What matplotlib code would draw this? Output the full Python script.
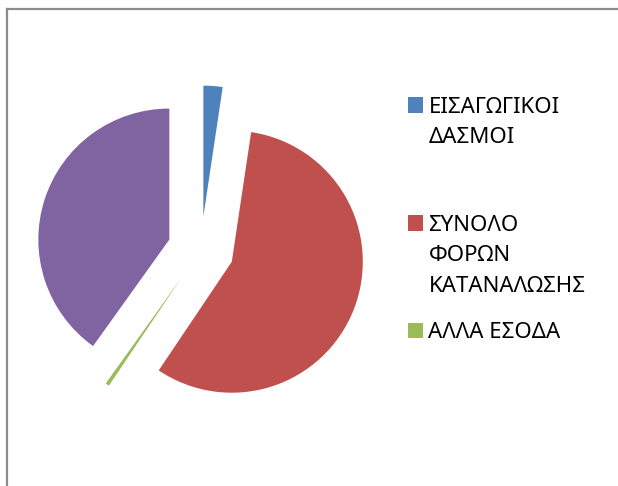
import matplotlib
matplotlib.use('Agg')
import matplotlib.pyplot as plt
from matplotlib.patches import Rectangle
from matplotlib.lines import Line2D

plt.rcParams['font.family'] = ['Noto Sans', 'DejaVu Sans']

# data (shares, clockwise from 12 o'clock)
labels = ['ΕΙΣΑΓΩΓΙΚΟΙ\nΔΑΣΜΟΙ', 'ΣΥΝΟΛΟ\nΦΟΡΩΝ\nΚΑΤΑΝΑΛΩΣΗΣ', 'ΑΛΛΑ ΕΣΟΔΑ', '']
values = [2.36, 57.06, 0.47, 40.11]
colors = ['#4F81BD', '#C0504D', '#9BBB59', '#8064A2']

W, H = 618, 486
fig = plt.figure(figsize=(W / 100, H / 100), dpi=100)
ax = fig.add_axes([0, 0, 1, 1])

# pie centre / radius in pixels
cx, cy, R = 200.9, 249.7, 131.0
ax.pie(values, colors=colors, startangle=90, counterclock=False,
       explode=[0.253] * len(values), radius=1.0,
       wedgeprops=dict(linewidth=0))
ax.set_aspect('auto')
ax.set_xlim(-cx / R, (W - cx) / R)
ax.set_ylim(-(H - cy) / R, cy / R)
ax.axis('off')

# outer frame (only top and left edges show in the crop)
fig.add_artist(Line2D([7 / W, 7 / W], [0, 1 - 9.5 / H], color='#8c8c8c', lw=1.6))
fig.add_artist(Line2D([7 / W, 1], [1 - 9.5 / H, 1 - 9.5 / H], color='#8c8c8c', lw=1.6))

# legend (first three entries only), baselines in pixels
first_base = [112.8, 230.7, 338.3]
step = 30.5
for lab, col, base in zip(labels[:3], colors[:3], first_base):
    fig.add_artist(Rectangle((407.5 / W, 1 - base / H), 15 / W, 15.3 / H,
                             transform=fig.transFigure, fc=col, ec='none'))
    for i, line in enumerate(lab.split('\n')):
        fig.text(428.5 / W, 1 - (base + i * step) / H, line, ha='left',
                 va='baseline', fontsize=16, color='black')

fig.savefig('out.png', dpi=100, facecolor='white')
